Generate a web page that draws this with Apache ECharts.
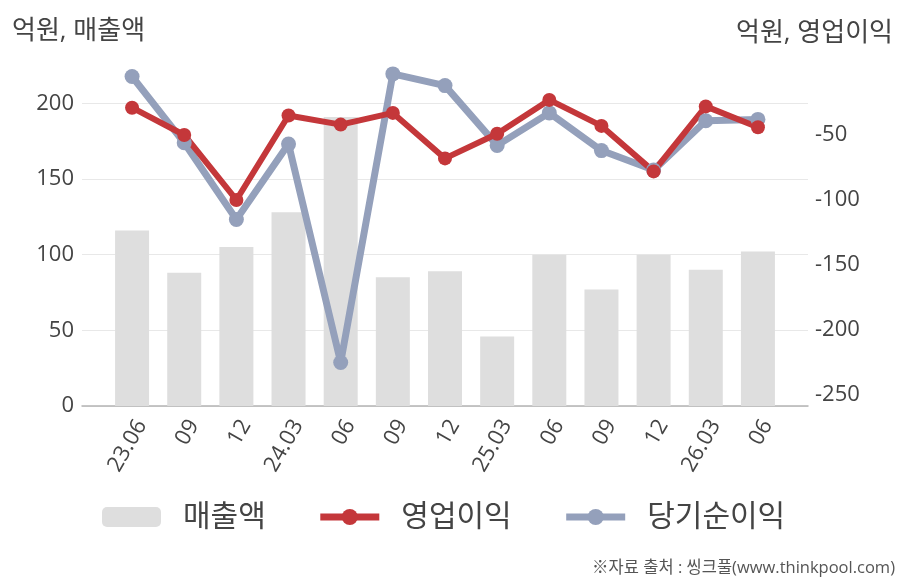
<!DOCTYPE html>
<html lang="ko">
<head>
  <meta charset="UTF-8">
  <title>매출액 / 영업이익 / 당기순이익</title>
  <script src="https://cdn.jsdelivr.net/npm/echarts@6/dist/echarts.min.js"></script>
  <style>
    html, body { margin: 0; padding: 0; background: #fff; }
  </style>
</head>
<body>
<div id="main" style="width: 908px;height:580px;"></div>
<script type="text/javascript">
    // 분기 라벨
    var categories = ['23.06', '09', '12', '24.03', '06', '09', '12', '25.03', '06', '09', '12', '26.03', '06'];
    // 매출액 (억원, 왼쪽 축)
    var sales = [116, 88, 105, 128, 191, 85, 89, 46, 100, 77, 100, 90, 102];
    // 영업이익 (억원, 오른쪽 축)
    var opProfit = [-29, -50, -100, -35, -42, -33, -68, -49, -23, -43, -78, -28, -44];
    // 당기순이익 (억원, 오른쪽 축)
    var netProfit = [-5, -56, -115, -57, -225, -3, -12, -58, -33, -62, -77, -39, -38];
    // 오른쪽 축 라벨
    var rightTicks = [-250, -200, -150, -100, -50];

    var font = '"Open Sans", "Noto Sans CJK KR", sans-serif';
    var txt = '#444';
    var red = '#c4373a';
    var blue = '#94a0bb';

    function pairs(arr) {
        return arr.map(function (v, i) { return [i, v]; });
    }
    var idx = categories.map(function (c, i) { return i; });

    var myChart = echarts.init(document.getElementById('main'));

    var option = {
        animation: false,
        textStyle: { fontFamily: font },
        title: [{
            text: '억원, 매출액',
            left: 7, top: 14,
            textStyle: { fontSize: 26, fontWeight: 'normal', color: txt, fontFamily: font }
        }, {
            text: '억원, 영업이익',
            right: 10, top: 16,
            textStyle: { fontSize: 26, fontWeight: 'normal', color: txt, fontFamily: font }
        }, {
            text: '※자료 출처 : 씽크풀(www.thinkpool.com)',
            right: 8, top: 555,
            textStyle: { fontSize: 16.5, fontWeight: 'normal', color: '#555', fontFamily: font }
        }],
        legend: {
            left: 97,
            top: 497,
            itemWidth: 59,
            itemHeight: 20,
            itemGap: 51,
            textStyle: { fontSize: 30, color: txt, fontFamily: font, padding: [0, 0, 0, 17] },
            data: [
                { name: '매출액' },
                { name: '영업이익', lineStyle: { width: 7, color: red } },
                { name: '당기순이익', lineStyle: { width: 7, color: blue } }
            ]
        },
        grid: {
            left: 82,
            right: 100,
            top: 70,
            bottom: 174
        },
        xAxis: {
            type: 'value',
            min: -0.96,
            max: 12.96,
            splitLine: { show: false },
            axisTick: { show: false },
            axisLine: { onZero: false, lineStyle: { color: '#b4b4b4', width: 1.5 } },
            axisLabel: {
                customValues: idx,
                formatter: function (v) { return categories[Math.round(v)]; },
                rotate: 60,
                verticalAlign: 'top',
                margin: 10,
                fontSize: 22,
                color: txt
            }
        },
        yAxis: [{
            type: 'value',
            min: 0,
            max: 222,
            interval: 50,
            axisLine: { show: false, onZero: false },
            axisTick: { show: false },
            axisLabel: { fontSize: 22, color: txt, margin: 8, showMaxLabel: false },
            splitLine: { showMaxLine: false, lineStyle: { color: '#e8e8e8', width: 1 } }
        }, {
            type: 'value',
            min: -258.5,
            max: 0,
            position: 'right',
            axisLine: { show: false, onZero: false },
            axisTick: { show: false },
            splitLine: { show: false },
            axisLabel: { customValues: rightTicks, fontSize: 22, color: txt, margin: 7 }
        }],
        series: [{
            name: '매출액',
            type: 'bar',
            barWidth: 34,
            itemStyle: { color: '#dedede' },
            data: pairs(sales)
        }, {
            name: '당기순이익',
            type: 'line',
            yAxisIndex: 1,
            symbol: 'circle',
            symbolSize: 15,
            lineStyle: { width: 7, color: blue },
            itemStyle: { color: blue },
            data: pairs(netProfit)
        }, {
            name: '영업이익',
            type: 'line',
            yAxisIndex: 1,
            symbol: 'circle',
            symbolSize: 14,
            lineStyle: { width: 6, color: red },
            itemStyle: { color: red },
            data: pairs(opProfit)
        }]
    };

    myChart.setOption(option);
</script>
</body>
</html>
